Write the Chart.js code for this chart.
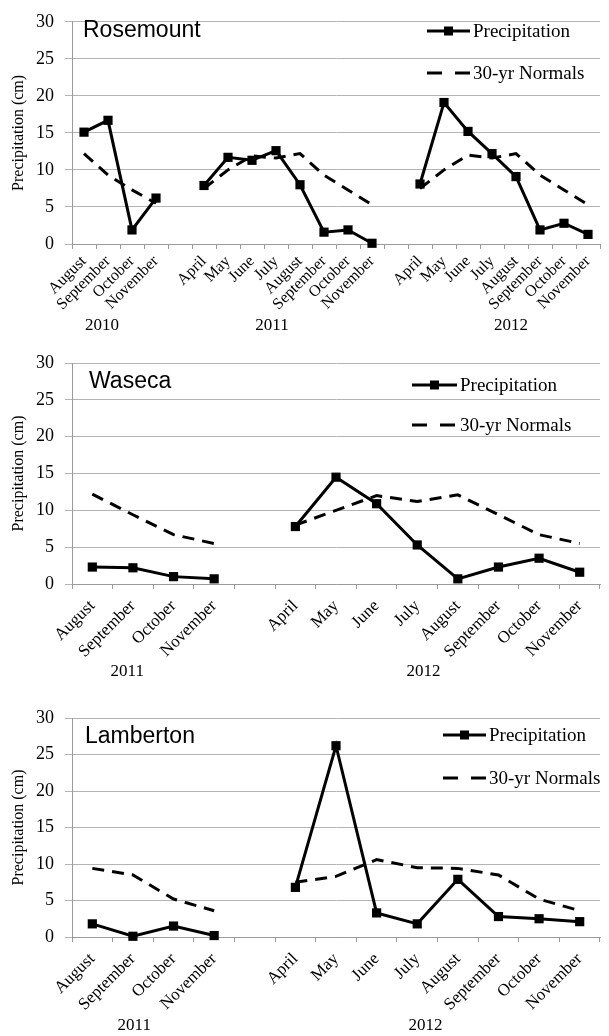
<!DOCTYPE html>
<html>
<head>
<meta charset="utf-8">
<script src="https://cdn.jsdelivr.net/npm/chart.js@4.4.1/dist/chart.umd.min.js"></script>
<style>
  html, body { margin: 0; padding: 0; background: #fff; }
  body { width: 609px; height: 1036px; position: relative; overflow: hidden; }
  canvas { position: absolute; left: 0; }
</style>
</head>
<body>
<canvas id="rosemount" width="609" height="340" style="top:0px"></canvas>
<canvas id="waseca" width="609" height="345" style="top:340px"></canvas>
<canvas id="lamberton" width="609" height="351" style="top:685px"></canvas>
<script>
// month labels
const monthsFall = ["August", "September", "October", "November"];
const monthsSeason = ["April", "May", "June", "July", "August", "September", "October", "November"];

// Rosemount (cm)
const rosePrecip2010 = [15.1, 16.7, 1.9, 6.2];
const rosePrecip2011 = [7.9, 11.7, 11.3, 12.6, 8.0, 1.6, 1.9, 0.1];
const rosePrecip2012 = [8.1, 19.1, 15.2, 12.2, 9.1, 1.9, 2.8, 1.3];
const roseNormals2010 = [12.2, 9.3, 7.3, 5.5];
const roseNormals2011 = [7.5, 10.0, 11.9, 11.6, 12.2, 9.3, 7.3, 5.3];
const roseNormals2012 = [7.5, 10.0, 12.0, 11.6, 12.2, 9.3, 7.3, 5.3];

// Waseca (cm)
const wasPrecip2011 = [2.3, 2.2, 1.0, 0.7];
const wasPrecip2012 = [7.8, 14.5, 10.9, 5.3, 0.7, 2.3, 3.5, 1.6];
const wasNormals2011 = [12.2, 9.4, 6.7, 5.5];
const wasNormals2012 = [8.0, 10.0, 12.0, 11.2, 12.1, 9.4, 6.7, 5.5];

// Lamberton (cm)
const lamPrecip2011 = [1.8, 0.1, 1.5, 0.2];
const lamPrecip2012 = [6.8, 26.2, 3.3, 1.8, 7.9, 2.8, 2.5, 2.1];
const lamNormals2011 = [9.4, 8.5, 5.2, 3.6];
const lamNormals2012 = [7.5, 8.3, 10.6, 9.5, 9.4, 8.5, 5.2, 3.6];

const yTicks = [0, 5, 10, 15, 20, 25, 30];

const SERIF = '"Liberation Serif", "Times New Roman", serif';
const SANS = '"Liberation Sans", Arial, sans-serif';

// join year blocks with one empty category between them
function joinBlocks(blocks, gap) {
  let out = [];
  blocks.forEach((b, i) => {
    if (i > 0) out.push(gap);
    out = out.concat(b);
  });
  return out;
}

function blockRanges(blocks) {
  let ranges = [], start = 0;
  blocks.forEach(b => {
    ranges.push([start, start + b.length - 1]);
    start += b.length + 1;
  });
  return ranges;
}

// draws station name, legend and year labels
const panelExtras = {
  id: "panelExtras",
  afterDraw(chart, args, o) {
    const ctx = chart.ctx;
    const xs = chart.scales.x;
    ctx.save();
    ctx.fillStyle = "#000";
    ctx.strokeStyle = "#000";
    ctx.textBaseline = "middle";

    ctx.font = "23px " + SANS;
    ctx.textAlign = "left";
    ctx.fillText(o.station, o.titleX, o.titleY);

    // legend
    const ds = chart.data.datasets;
    ctx.lineWidth = 3;
    ctx.beginPath();
    ctx.moveTo(o.legX0, o.legY[0]);
    ctx.lineTo(o.legX1, o.legY[0]);
    ctx.stroke();
    ctx.fillRect((o.legX0 + o.legX1) / 2 - 4.5, o.legY[0] - 4.5, 9, 9);
    ctx.setLineDash([15, 13]);
    ctx.beginPath();
    ctx.moveTo(o.legX0, o.legY[1]);
    ctx.lineTo(o.legX1, o.legY[1]);
    ctx.stroke();
    ctx.setLineDash([]);
    ctx.font = "19px " + SERIF;
    ctx.fillText(ds[0].label, o.legX1 + 3, o.legY[0] + 1);
    ctx.fillText(ds[1].label, o.legX1 + 3, o.legY[1] + 1);

    // year labels under each block
    ctx.font = "17px " + SERIF;
    ctx.textAlign = "center";
    o.years.forEach((yr, i) => {
      const r = o.ranges[i];
      const cx = (xs.getPixelForValue(r[0]) + xs.getPixelForValue(r[1])) / 2 + o.yearShift[i];
      ctx.fillText(yr, cx, o.yearY);
    });
    ctx.restore();
  }
};

function makePanel(id, p) {
  const labels = joinBlocks(p.months, "");
  const precip = joinBlocks(p.precip, null);
  const normals = joinBlocks(p.normals, null);
  const canvas = document.getElementById(id);
  const plotBottom = p.plotBottom;

  new Chart(canvas.getContext("2d"), {
    type: "line",
    data: {
      labels: labels,
      datasets: [
        {
          label: "Precipitation",
          data: precip,
          borderColor: "#000",
          backgroundColor: "#000",
          borderWidth: 3,
          pointStyle: "rect",
          pointRadius: 6.5,
          pointHoverRadius: 6.5,
          pointBackgroundColor: "#000",
          pointBorderWidth: 0,
          tension: 0,
          spanGaps: false,
          clip: false,
        },
        {
          label: "30-yr Normals",
          data: normals,
          borderColor: "#000",
          borderWidth: 3,
          borderDash: [12, 8],
          pointRadius: 0,
          tension: 0,
          spanGaps: false,
          clip: false,
        },
      ],
    },
    options: {
      responsive: false,
      animation: false,
      events: [],
      layout: { padding: { top: p.plotTop, right: 9, left: 0, bottom: 0 } },
      plugins: {
        legend: { display: false },
        tooltip: { enabled: false },
        panelExtras: {
          station: p.station,
          titleX: p.titleX, titleY: p.titleY,
          legX0: p.legX0, legX1: p.legX1, legY: p.legY,
          years: p.years, ranges: blockRanges(p.months),
          yearShift: p.yearShift, yearY: p.yearY,
        },
      },
      scales: {
        x: {
          offset: true,
          grid: { offset: true, drawOnChartArea: false, drawTicks: true, tickLength: 5, color: "#9a9a9a" },
          border: { color: "#9a9a9a", width: 1 },
          ticks: {
            autoSkip: false,
            minRotation: 45,
            maxRotation: 45,
            padding: p.tickPad,
            color: "#000",
            font: { family: SERIF, size: p.monthSize },
          },
          afterFit: (s) => { s.height = canvas.height - plotBottom; },
        },
        y: {
          min: 0,
          max: 30,
          afterBuildTicks: (s) => { s.ticks = yTicks.map(v => ({ value: v })); },
          grid: { color: "#b4b4b4", tickLength: 7, lineWidth: 1 },
          border: { color: "#9a9a9a", width: 1 },
          ticks: { padding: 11, color: "#000", font: { family: SERIF, size: 18 } },
          title: {
            display: true,
            text: "Precipitation (cm)",
            color: "#000",
            font: { family: SERIF, size: 16 },
            padding: { top: 9, bottom: 0 },
          },
          afterFit: (s) => { s.width = 72; },
        },
      },
    },
    plugins: [panelExtras],
  });
}

makePanel("rosemount", {
  station: "Rosemount",
  months: [monthsFall, monthsSeason, monthsSeason],
  precip: [rosePrecip2010, rosePrecip2011, rosePrecip2012],
  normals: [roseNormals2010, roseNormals2011, roseNormals2012],
  years: ["2010", "2011", "2012"],
  yearShift: [-18, -16, 7],
  yearY: 326,
  plotTop: 13, plotBottom: 244,
  titleX: 83, titleY: 31,
  legX0: 427, legX1: 470, legY: [31, 73],
  tickPad: 3, monthSize: 16,
});

makePanel("waseca", {
  station: "Waseca",
  months: [monthsFall, monthsSeason],
  precip: [wasPrecip2011, wasPrecip2012],
  normals: [wasNormals2011, wasNormals2012],
  years: ["2011", "2012"],
  yearShift: [-26, -14],
  yearY: 332,
  plotTop: 23, plotBottom: 244,
  titleX: 89, titleY: 42,
  legX0: 412, legX1: 457, legY: [45, 85],
  tickPad: 7, monthSize: 17,
});

makePanel("lamberton", {
  station: "Lamberton",
  months: [monthsFall, monthsSeason],
  precip: [lamPrecip2011, lamPrecip2012],
  normals: [lamNormals2011, lamNormals2012],
  years: ["2011", "2012"],
  yearShift: [-19, -12],
  yearY: 341,
  plotTop: 33, plotBottom: 252,
  titleX: 85, titleY: 52,
  legX0: 443, legX1: 486, legY: [50, 93],
  tickPad: 7, monthSize: 17,
});
</script>
</body>
</html>
